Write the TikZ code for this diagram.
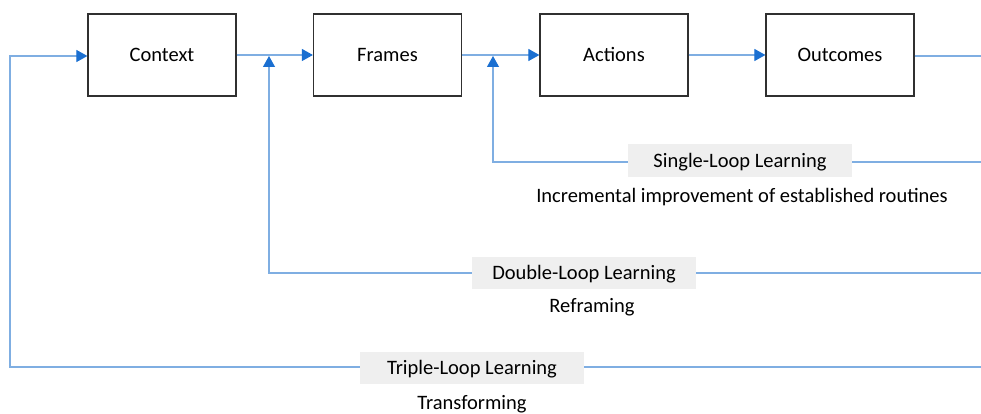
\documentclass[tikz,border=0pt]{standalone}
\usepackage{fontspec}
\setmainfont{Carlito}
\usetikzlibrary{arrows.meta}
\definecolor{loopblue}{HTML}{7FAEE2}
\definecolor{tipblue}{HTML}{1A6FD1}
\definecolor{labelgray}{HTML}{EFEFEF}
\definecolor{boxline}{HTML}{303030}
\begin{document}
\begin{tikzpicture}[x=1pt,y=-1pt,
  txt/.style={font=\fontsize{20.5}{23}\selectfont,text height=17.2pt,text depth=4pt},
  stage/.style={txt,draw=boxline,line width=1.2pt,minimum width=148pt,minimum height=82pt,
    inner sep=0pt},
  flow/.style={draw=loopblue,line width=1.1pt,
    -{Triangle[length=11pt,width=12pt,color=tipblue]}},
  plain/.style={draw=loopblue,line width=1.1pt},
  looplabel/.style={txt,fill=labelgray,minimum width=224pt,minimum height=32pt,inner sep=0pt},
  note/.style={txt,inner sep=0pt}]
\useasboundingbox (0,0) rectangle (981,414);

% main chain of stages
\node[stage] (ctx) at (162,55) {Context};
\node[stage] (frm) at (387.5,55) {Frames};
\node[stage] (act) at (614,55) {Actions};
\node[stage] (out) at (840,55) {Outcomes};

\draw[flow] (ctx) -- (frm);
\draw[flow] (frm) -- (act);
\draw[flow] (act) -- (out);
\coordinate (outend) at (981,56);
\draw[plain] (out.east |- outend) -- (outend);

% feedback loops
\coordinate (sR) at (981,162);
\coordinate (sL) at (493,162);
\coordinate (sT) at (493,56);
\coordinate (dR) at (981,273);
\coordinate (dL) at (269,273);
\coordinate (dT) at (269,56);
\coordinate (tR) at (981,367);
\coordinate (tL) at (10,367);
\coordinate (tT) at (10,56);

\draw[flow] (sR) -- (sL) -- (sT);
\draw[flow] (dR) -- (dL) -- (dT);
\draw[flow] (tR) -- (tL) -- (tT) -- (ctx.west |- tT);

% loop labels
\node[looplabel] (single) at (740,160.5) {Single-Loop Learning};
\node[note] (singlenote) at (742,196) {Incremental improvement of established routines};
\node[looplabel] (double) at (584,272.5) {Double-Loop Learning};
\node[note] (doublenote) at (592,306) {Reframing};
\node[looplabel] (triple) at (472,368) {Triple-Loop Learning};
\node[note] (triplenote) at (472,403) {Transforming};
\end{tikzpicture}
\end{document}
